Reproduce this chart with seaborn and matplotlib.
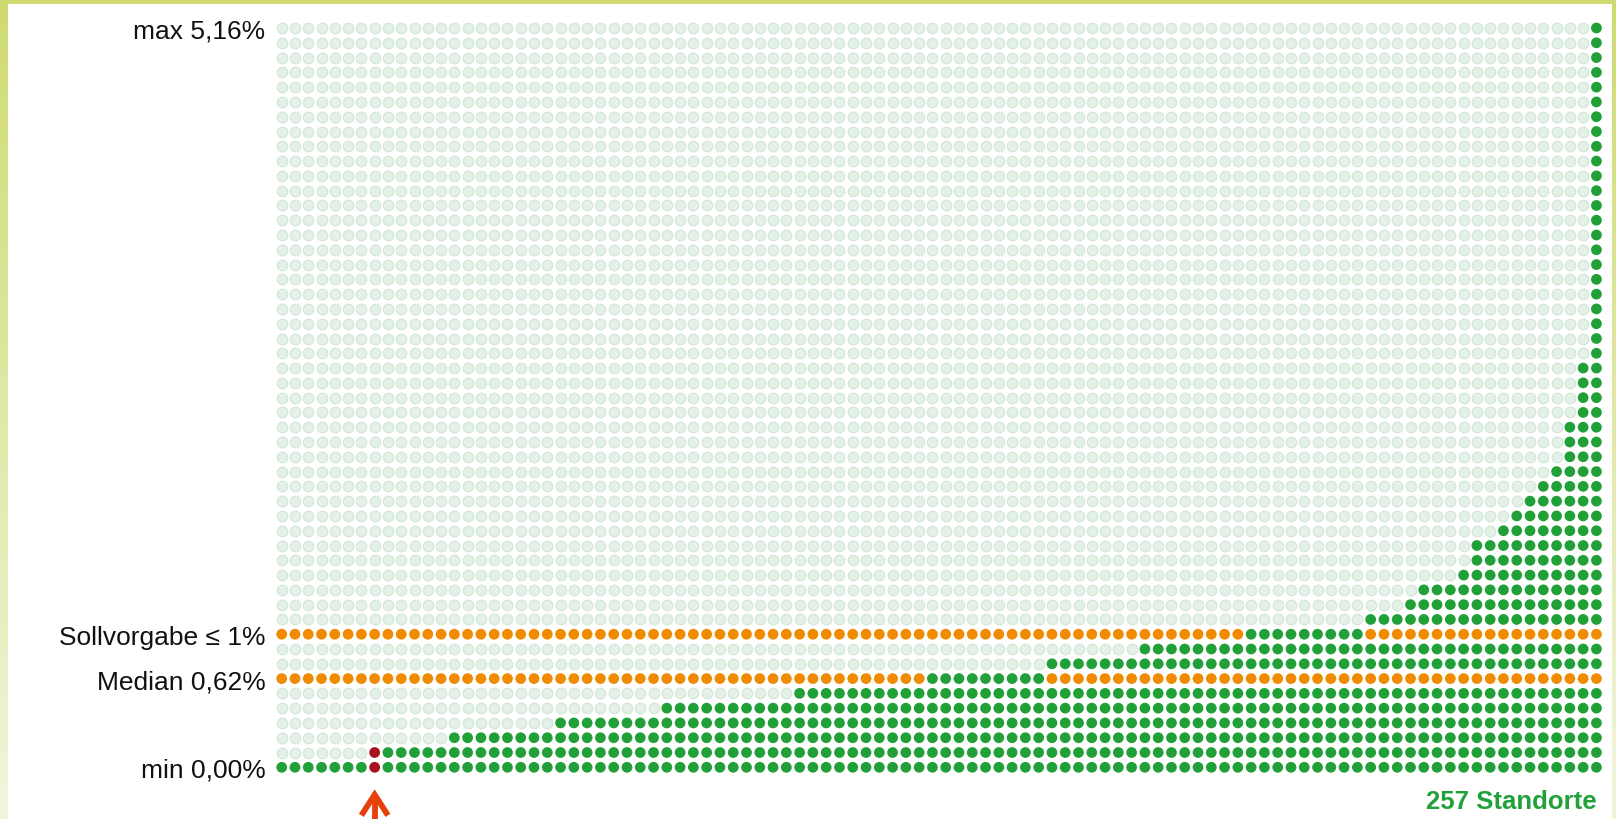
import numpy as np
import pandas as pd
import matplotlib
matplotlib.use("Agg")
import matplotlib.pyplot as plt
from matplotlib.colors import LinearSegmentedColormap
import seaborn as sns

# ── Daten ─────────────────────────────────────────
# gefüllte Punkte je Spalte (von unten gezählt), Spalten aufsteigend sortiert
punkte = [1, 1, 1, 1, 1, 1, 1, 2, 2, 2,
          2, 2, 2, 3, 3, 3, 3, 3, 3, 3,
          3, 4, 4, 4, 4, 4, 4, 4, 4, 5,
          5, 5, 5, 5, 5, 5, 5, 5, 5, 6,
          6, 6, 6, 6, 6, 6, 6, 6, 6, 7,
          7, 7, 7, 7, 7, 7, 7, 7, 8, 8,
          8, 8, 8, 8, 8, 9, 9, 9, 9, 9,
          9, 9, 9, 10, 10, 10, 10, 10, 10, 10,
          10, 10, 11, 11, 11, 12, 13, 13, 13, 14,
          16, 16, 17, 18, 19, 20, 21, 24, 28, 51]
zeilen = 51
markierung = 7          # hervorgehobener Standort
soll_zeile = 9
median_zeile = 6

label_zeilen = [50, 9, 6, 0]
label_texte = ["max 5,16%", "Sollvorgabe \u2264 1%", "Median 0,62%", "min 0,00%"]
anzahl_text = "257 Standorte"

farben = {"leer": "#e3f1e6", "gruen": "#21a038", "orange": "#f08b00", "rot": "#a8121f"}

# ── Raster aufbauen ───────────────────────────────
rows = []
for s, h in enumerate(punkte):
    for z in range(zeilen):
        if z < h:
            status = "rot" if s == markierung else "gruen"
        else:
            status = "leer"
        if z in (soll_zeile, median_zeile) and z != h - 1:
            status = "orange"
        rows.append((s, z, status))
df = pd.DataFrame(rows, columns=["spalte", "zeile", "status"])

# ── Plot ──────────────────────────────────────────
sns.set_theme(style="white")
plt.rcParams["font.family"] = ["Liberation Sans", "DejaVu Sans"]

W, H = 1616, 820
fig = plt.figure(figsize=(W / 100, H / 100), dpi=100, facecolor="white")

sx = 13.28
sy = 739.3 / (zeilen - 1)
x0 = 281.7 - sx / 2
y0 = H - (768.3 + sy / 2)
ax = fig.add_axes([x0 / W, y0 / H, len(punkte) * sx / W, zeilen * sy / H])

leer = df[df.status == "leer"]
voll = df[df.status != "leer"]
sns.scatterplot(data=leer, x="spalte", y="zeile", color=farben["leer"],
                s=58, edgecolor="#d2e6d6", linewidth=0.8, ax=ax, legend=False)
sns.scatterplot(data=voll, x="spalte", y="zeile", hue="status", palette=farben,
                s=60, linewidth=0, ax=ax, legend=False)

ax.set_xlim(-0.5, len(punkte) - 0.5)
ax.set_ylim(-0.5, zeilen - 0.5)
ax.set_xticks([])
ax.set_yticks(label_zeilen)
ax.set_yticklabels(label_texte, fontsize=19, color="#111111")
ax.tick_params(axis="y", length=0, pad=7)
ax.set_xlabel("")
ax.set_ylabel("")
for sp in ax.spines.values():
    sp.set_visible(False)

# Pfeil unter dem markierten Standort
pfeil = "#e8400c"
ax.plot([markierung - 1.0, markierung, markierung + 1.0], [-3.25, -1.85, -3.25],
        color=pfeil, lw=4.2, clip_on=False, solid_joinstyle="miter", solid_capstyle="butt")
ax.plot([markierung, markierung], [-2.05, -4.2], color=pfeil, lw=4.2, clip_on=False)

ax.text(len(punkte) - 1, -2.3, anzahl_text, ha="right", va="center",
        fontsize=18.5, fontweight="bold", color="#22a03a", clip_on=False)

# ── Rahmen ────────────────────────────────────────
verlauf = LinearSegmentedColormap.from_list("rahmen", ["#f2f5dc", "#cfdb70"])
grad = np.linspace(0, 1, 256).reshape(-1, 1)
for pos in ([0, 0, 8 / W, 1], [1612 / W, 0, 4 / W, 1]):
    bx = fig.add_axes(pos)
    bx.imshow(grad, aspect="auto", cmap=verlauf, origin="lower")
    bx.set_axis_off()
tx = fig.add_axes([0, 1 - 5 / H, 1, 5 / H])
tx.set_facecolor("#cfdb70")
tx.set_xticks([])
tx.set_yticks([])
for sp in tx.spines.values():
    sp.set_visible(False)

fig.savefig("out.png", dpi=100, facecolor="white")
